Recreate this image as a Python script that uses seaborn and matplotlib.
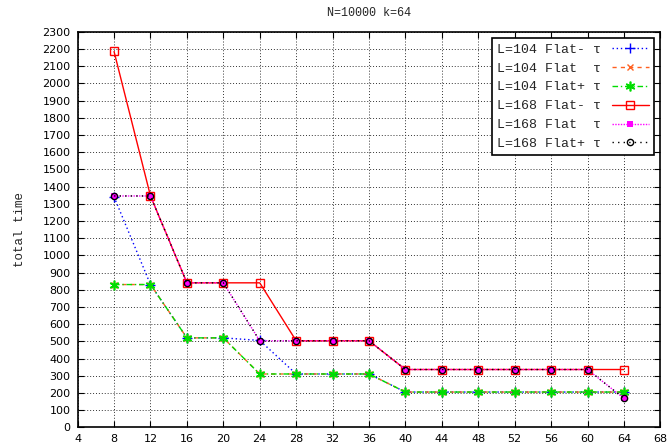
import matplotlib
matplotlib.use("Agg")
import matplotlib.pyplot as plt
import seaborn as sns
import numpy as np

threads = [8, 12, 16, 20, 24, 28, 32, 36, 40, 44, 48, 52, 56, 60, 64]
l104_flat_minus = [1340, 830, 520, 520, 505, 310, 310, 310, 205, 205, 205, 205, 205, 205, 205]
l104_flat = [830, 830, 520, 520, 310, 310, 310, 310, 205, 205, 205, 205, 205, 205, 205]
l104_flat_plus = [830, 830, 520, 520, 310, 310, 310, 310, 205, 205, 205, 205, 205, 205, 205]
l168_flat_minus = [2185, 1345, 840, 840, 840, 503, 503, 503, 336, 336, 336, 336, 336, 336, 336]
l168_flat = [1345, 1345, 840, 840, 503, 503, 503, 503, 336, 336, 336, 336, 336, 336, 168]
l168_flat_plus = [1345, 1345, 840, 840, 503, 503, 503, 503, 336, 336, 336, 336, 336, 336, 168]

labels = ["L=104 Flat- τ", "L=104 Flat  τ", "L=104 Flat+ τ",
          "L=168 Flat- τ", "L=168 Flat  τ", "L=168 Flat+ τ"]
x_ticks = list(range(4, 69, 4))
y_ticks = list(range(0, 2301, 100))
title = "N=10000 k=64"
ylabel = "total time"

sns.set_style("ticks")
plt.rcParams['font.family'] = ['DejaVu Sans']

fig = plt.figure(figsize=(6.68, 4.48), dpi=100)
ax = fig.add_axes([0.1162, 0.0462, 0.9886 - 0.1162, 0.9292 - 0.0462])

mono = "Liberation Mono"
asterisk = (6, 2, 0)
styles = [
    dict(color="#0000ff", linestyle=(0, (1, 2)), marker="+", ms=7, mew=1.0, mec="#0000ff"),
    dict(color="#ff6020", linestyle=(0, (3, 3)), marker="x", ms=5, mew=1.0, mec="#ff6020"),
    dict(color="#00dd00", linestyle=(0, (4, 2, 1, 2)), marker=asterisk, ms=7, mew=1.2,
         mec="#00dd00", mfc="#00dd00"),
    dict(color="#ff0000", linestyle="-", marker="s", ms=6, mfc="none", mew=1.0, mec="#ff0000"),
    dict(color="#ff00ff", linestyle=(0, (1, 1)), marker="s", ms=5, mew=0,
         mec="#ff00ff", mfc="#ff00ff"),
    dict(color="#000000", linestyle=(0, (1, 3)), marker="o", ms=4.5, mfc="none", mew=1.0, mec="#000000"),
]
series = [l104_flat_minus, l104_flat, l104_flat_plus, l168_flat_minus, l168_flat, l168_flat_plus]

for vals, lab, st in zip(series, labels, styles):
    sns.lineplot(x=threads, y=vals, ax=ax, label=lab, lw=1.0, **st)

ax.set_xlim(4, 68)
ax.set_ylim(0, 2300)
ax.set_xticks(x_ticks)
ax.set_yticks(y_ticks)
ax.tick_params(axis="both", direction="in", labelsize=8, length=4, width=0.8,
               top=True, right=True, colors="black", pad=5)
ax.grid(True, linestyle=(0, (1, 2)), color="#333333", linewidth=0.7)
for s in ax.spines.values():
    s.set_color("black")
    s.set_linewidth(1.2)
ax.set_xlabel("")
ax.set_ylabel(ylabel, fontfamily=mono, fontsize=9, labelpad=12)
ax.set_title(title, fontfamily=mono, fontsize=8.5, pad=11)

leg = ax.legend(loc="upper right", markerfirst=False, fancybox=False,
                prop={"family": mono, "size": 9.5}, handlelength=2.8,
                borderpad=0.4, labelspacing=0.5, handletextpad=0.8,
                borderaxespad=0.5, framealpha=1)
leg.get_frame().set_edgecolor("black")
leg.get_frame().set_linewidth(1.2)

fig.savefig("out.png", dpi=100)
